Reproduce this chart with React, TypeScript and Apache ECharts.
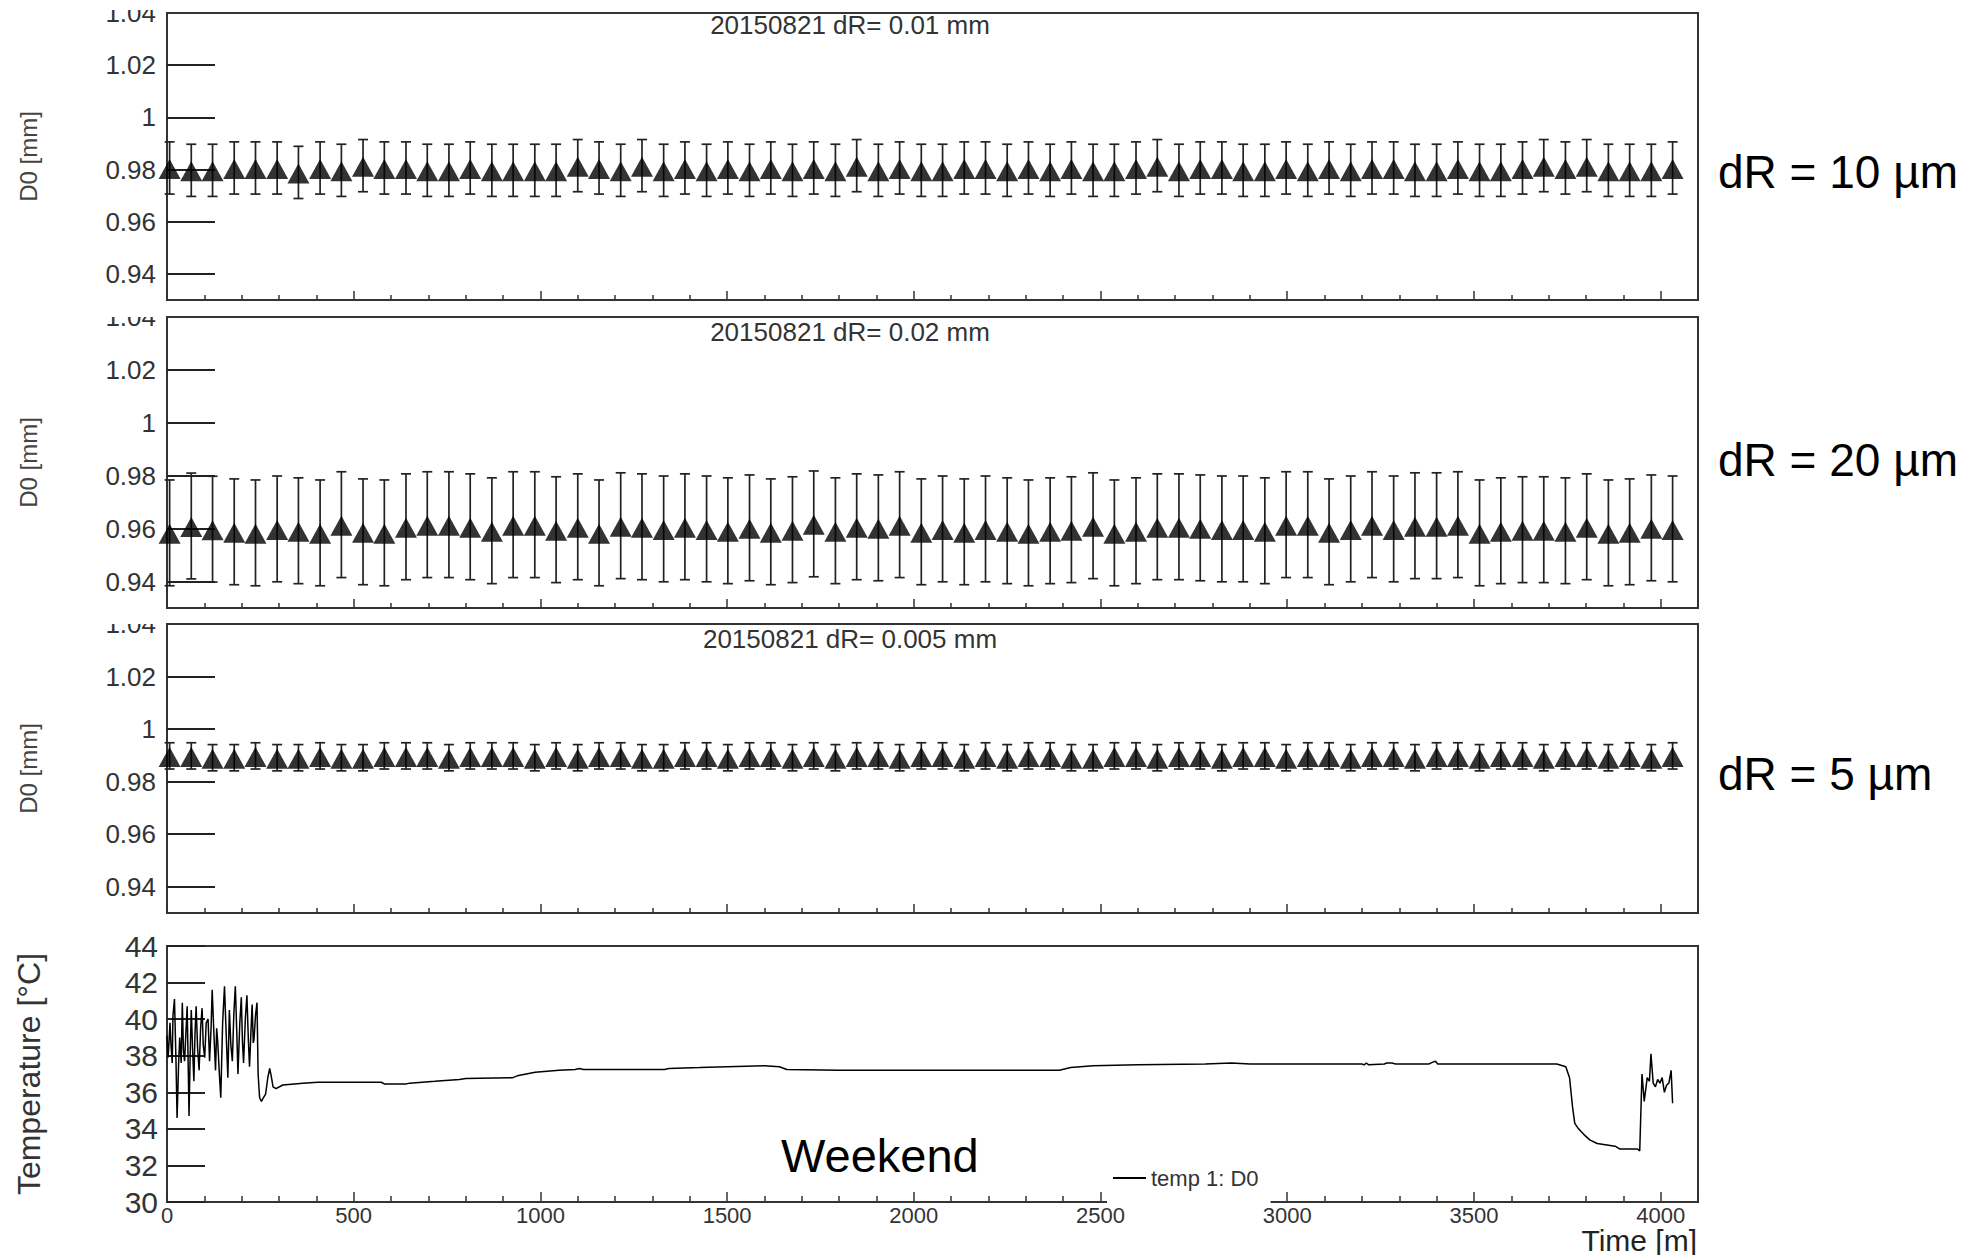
import React, { useEffect, useRef } from "react";
import * as echarts from "echarts";

// ---------- data ----------
const measTimes = [
  7, 65, 122, 180, 237, 295, 352, 410, 467, 525, 582, 640, 697, 755, 812, 870, 927, 985, 1042, 1100, 1157, 1215, 1272, 1330,
  1387, 1445, 1502, 1560, 1617, 1675, 1732, 1790, 1847, 1905, 1962, 2020, 2077, 2135, 2192, 2250, 2307, 2365, 2422, 2480,
  2537, 2595, 2652, 2710, 2767, 2825, 2882, 2940, 2997, 3055, 3112, 3170, 3227, 3285, 3342, 3400, 3457, 3515, 3572, 3630,
  3687, 3745, 3802, 3860, 3917, 3975, 4032,
];

const d0_10um = [
  0.9806, 0.9797, 0.9797, 0.9806, 0.9806, 0.9806, 0.9789, 0.9806, 0.9797, 0.9815, 0.9806, 0.9806, 0.9797, 0.9797, 0.9806,
  0.9797, 0.9797, 0.9797, 0.9797, 0.9815, 0.9806, 0.9797, 0.9815, 0.9797, 0.9806,
  0.9797, 0.9806, 0.9797, 0.9806, 0.9797, 0.9806, 0.9797, 0.9815, 0.9797, 0.9806, 0.9797, 0.9797, 0.9806, 0.9806, 0.9797,
  0.9806, 0.9797, 0.9806, 0.9797, 0.9797, 0.9806, 0.9815, 0.9797, 0.9806, 0.9806, 0.9797, 0.9797, 0.9806, 0.9797, 0.9806,
  0.9797, 0.9806, 0.9806, 0.9797, 0.9797, 0.9806, 0.9797, 0.9797, 0.9806, 0.9815, 0.9806, 0.9815, 0.9797, 0.9797, 0.9797,
  0.9806,
];

const d0_20um = [
  0.9584, 0.961, 0.9598, 0.9588, 0.9584, 0.9599, 0.9592, 0.9584, 0.9615, 0.9588, 0.9584, 0.9607, 0.9615, 0.9615, 0.9607,
  0.9592, 0.9615, 0.9615, 0.9596, 0.9607, 0.9584, 0.9611, 0.9607, 0.9599,
  0.9607, 0.9599, 0.9592, 0.9603, 0.9588, 0.9596, 0.9618, 0.9592, 0.9607, 0.9603, 0.9615, 0.9588, 0.9599, 0.9588, 0.9599,
  0.9592, 0.9584, 0.9592, 0.9596, 0.9611, 0.9584, 0.9592, 0.9607, 0.9607,
  0.9603, 0.9599, 0.9599, 0.9592, 0.9615, 0.9615, 0.9588, 0.9599, 0.9615, 0.9599, 0.9611, 0.9611, 0.9615, 0.9584, 0.9592,
  0.9596, 0.9596, 0.9592, 0.9607, 0.9584, 0.9588, 0.9603, 0.9599,
];

const d0_5um = [
  0.9898, 0.9898, 0.9891, 0.9891, 0.9898, 0.9891, 0.9891, 0.9898, 0.9891, 0.9891, 0.9898, 0.9898, 0.9898, 0.9891, 0.9898,
  0.9898, 0.9898, 0.9891, 0.9898, 0.9891, 0.9898, 0.9898, 0.9891, 0.9891, 0.9898,
  0.9898, 0.9891, 0.9898, 0.9898, 0.9891, 0.9898, 0.9891, 0.9898, 0.9898, 0.9891, 0.9898, 0.9898, 0.9891, 0.9898, 0.9891,
  0.9898, 0.9898, 0.9891, 0.9891, 0.9898, 0.9898, 0.9891, 0.9898, 0.9898, 0.9891, 0.9898, 0.9898, 0.9891, 0.9898, 0.9898,
  0.9891, 0.9898, 0.9898, 0.9891, 0.9898, 0.9898, 0.9891, 0.9898, 0.9898, 0.9891, 0.9898, 0.9898, 0.9891, 0.9898, 0.9891,
  0.9898,
];

const panelErrors = [0.01, 0.02, 0.005];
const panelTitles = ["20150821 dR= 0.01 mm", "20150821 dR= 0.02 mm", "20150821 dR= 0.005 mm"];
const sideLabels = ["dR = 10 µm", "dR = 20 µm", "dR = 5 µm"];

const tempTimes = [
  0, 3, 5, 8, 11, 14, 16, 20, 24, 27, 31, 34, 38, 41, 44, 47, 51, 54, 57, 59, 62, 65, 69, 72, 75, 78, 82, 86, 90, 94, 97,
  101, 105, 110, 114, 118, 121, 126, 130, 133, 136, 140, 144, 149, 154, 159, 163, 167, 171, 175, 179, 183, 187, 190, 195,
  199, 202, 205, 210, 214, 218, 221, 225, 228, 231, 233, 237, 241, 244, 248, 253, 258, 264, 270, 275, 279, 284, 292, 310,
  364, 404, 520, 574, 583, 639, 650, 717, 783, 800, 926, 938, 986, 1050, 1093, 1105, 1115, 1332, 1344, 1426, 1500, 1600,
  1640, 1660, 1800, 2000, 2200, 2390, 2420, 2480, 2600, 2780, 2850, 2900, 3200, 3206, 3212, 3218, 3260, 3266, 3280, 3290,
  3380, 3390, 3397, 3403, 3722, 3746, 3756, 3764, 3770, 3780, 3794, 3810, 3830, 3878, 3890, 3938, 3944, 3950, 3956, 3964,
  3970, 3974, 3980, 3986, 3992, 3998, 4004, 4010, 4016, 4022, 4028, 4032,
];
const tempValues = [
  39.1, 37.9, 38.6, 39.8, 38.5, 37.6, 40.2, 41.1, 37.8, 34.6, 37.5, 39.0, 37.6, 40.9, 38.3, 37.7, 39.4, 40.7, 37.2, 34.7,
  38.0, 40.5, 38.1, 36.6, 39.2, 40.7, 38.4, 37.2, 39.5, 40.6, 38.6, 37.9, 39.8, 40.0, 37.7, 39.5, 41.6, 39.0, 37.2, 39.5,
  38.7, 37.1, 35.7, 39.8, 41.8, 38.9, 36.8, 40.5, 38.6, 37.7, 40.3, 41.8, 39.2, 37.0, 39.8, 41.2, 38.8, 37.6, 40.1, 41.3,
  38.8, 37.4, 39.4, 40.8, 38.7, 38.9, 40.2, 40.9, 37.0, 35.7, 35.5, 35.7, 35.9, 36.8, 37.3, 36.9, 36.3, 36.2, 36.4, 36.5,
  36.55, 36.55, 36.55, 36.45, 36.45, 36.5, 36.6, 36.7, 36.75, 36.8, 36.9, 37.1, 37.2, 37.25, 37.3, 37.25, 37.25, 37.3,
  37.35, 37.4, 37.45, 37.4, 37.25, 37.2, 37.2, 37.2, 37.2, 37.35, 37.45, 37.5, 37.55, 37.6, 37.55, 37.55, 37.5, 37.6,
  37.5, 37.55, 37.6, 37.6, 37.55, 37.55, 37.65, 37.7, 37.55, 37.55, 37.4, 36.8, 35.2, 34.3, 34.0, 33.7, 33.4, 33.2,
  33.05, 32.9, 32.9, 32.8, 37.0, 35.5, 36.8, 36.6, 38.1, 36.5, 36.3, 36.7, 36.5, 36.8, 36.0, 36.4, 36.5, 37.2, 35.4,
];

const d0TickValues = [0.94, 0.96, 0.98, 1.0, 1.02];
const d0LabelValues = [0.94, 0.96, 0.98, 1.0, 1.02, 1.04];

// ---------- layout ----------
const FONT = "'Liberation Sans', Arial, Helvetica, sans-serif";
const GRID_LEFT = 167;
const GRID_WIDTH = 1531;
const panels = [
  { top: 10, height: 290 },
  { top: 317, height: 291 },
  { top: 624, height: 289 },
  { top: 946, height: 256 },
];

const App: React.FC = () => {
  const ref = useRef<HTMLDivElement>(null);

  useEffect(() => {
    document.body.style.margin = "0";
    if (!ref.current) return;
    const chart = echarts.init(ref.current, undefined, { renderer: "svg" });

    const d0Sets = [d0_10um, d0_20um, d0_5um];

    const grids = panels.map((p) => ({
      left: GRID_LEFT,
      top: p.top,
      width: GRID_WIDTH,
      height: p.height,
      show: true,
      borderColor: "#333",
      borderWidth: 2,
      backgroundColor: "transparent",
      containLabel: false,
    }));

    const xAxes = panels.map((_, i) => ({
      type: "value",
      gridIndex: i,
      min: 0,
      max: 4100,
      interval: 500,
      axisLine: { show: false },
      axisTick: {
        show: true,
        inside: true,
        length: i === 3 ? 10 : 9,
        lineStyle: { color: "#333", width: 1.5 },
      },
      minorTick: {
        show: true,
        splitNumber: 5,
        length: i === 3 ? 6 : 5,
        lineStyle: { color: "#333", width: 1.5 },
      },
      splitLine: { show: false },
      minorSplitLine: { show: false },
      axisLabel:
        i === 3
          ? {
              show: true,
              fontSize: 22,
              color: "#333",
              fontFamily: FONT,
              margin: 2,
              showMaxLabel: false,
              formatter: (v: number) => String(v),
            }
          : { show: false },
    }));

    const yAxes = panels.map((_, i) => {
      if (i < 3) {
        return {
          type: "value",
          gridIndex: i,
          min: 0.93,
          max: 1.04,
          axisLine: { show: false },
          axisTick: {
            show: true,
            inside: true,
            length: 48,
            customValues: d0TickValues,
            lineStyle: { color: "#222", width: 2 },
          },
          splitLine: { show: false },
          axisLabel: {
            show: true,
            customValues: d0LabelValues,
            fontSize: 26,
            color: "#333",
            fontFamily: FONT,
            margin: 11,
            formatter: (v: number) => String(+v.toFixed(2)),
          },
          name: "D0 [mm]",
          nameLocation: "middle",
          nameRotate: 90,
          nameGap: 127,
          nameTextStyle: { fontSize: 24, color: "#444", fontFamily: FONT },
        };
      }
      return {
        type: "value",
        gridIndex: 3,
        min: 30,
        max: 44,
        interval: 2,
        axisLine: { show: false },
        axisTick: {
          show: true,
          inside: true,
          length: 38,
          lineStyle: { color: "#222", width: 2 },
        },
        splitLine: { show: false },
        axisLabel: {
          show: true,
          fontSize: 30,
          color: "#333",
          fontFamily: FONT,
          margin: 9,
        },
        name: "Temperature [°C]",
        nameLocation: "middle",
        nameRotate: 90,
        nameGap: 122,
        nameTextStyle: { fontSize: 32, color: "#333", fontFamily: FONT },
      };
    });

    const series: any[] = [];
    d0Sets.forEach((vals, i) => {
      const err = panelErrors[i];
      series.push({
        type: "custom",
        name: "err" + i,
        xAxisIndex: i,
        yAxisIndex: i,
        silent: true,
        data: measTimes.map((t, k) => [t, vals[k], err]),
        renderItem: (_params: any, api: any) => {
          const x = api.value(0);
          const y = api.value(1);
          const e = api.value(2);
          const top = api.coord([x, y + e]);
          const bot = api.coord([x, y - e]);
          const cap = 5;
          const st = { stroke: "#222", lineWidth: 1.7 };
          return {
            type: "group",
            children: [
              { type: "line", shape: { x1: top[0], y1: top[1], x2: bot[0], y2: bot[1] }, style: st },
              { type: "line", shape: { x1: top[0] - cap, y1: top[1], x2: top[0] + cap, y2: top[1] }, style: st },
              { type: "line", shape: { x1: bot[0] - cap, y1: bot[1], x2: bot[0] + cap, y2: bot[1] }, style: st },
            ],
          };
        },
        z: 2,
      });
      series.push({
        type: "scatter",
        name: "D0 " + i,
        xAxisIndex: i,
        yAxisIndex: i,
        symbol: "triangle",
        symbolSize: [22, 20],
        symbolOffset: [0, 1],
        itemStyle: { color: "#000" },
        data: measTimes.map((t, k) => [t, vals[k]]),
        z: 3,
      });
    });

    series.push({
      type: "line",
      name: "temp 1: D0",
      xAxisIndex: 3,
      yAxisIndex: 3,
      showSymbol: false,
      symbol: "none",
      lineStyle: { color: "#000", width: 1.5 },
      itemStyle: { color: "#000" },
      data: tempTimes.map((t, k) => [t, tempValues[k]]),
      z: 3,
    });

    const graphics: any[] = [];
    // clip the top halves of the "1.04" labels like the reference pads do
    [0, 1, 2].forEach((i) => {
      graphics.push({
        type: "rect",
        shape: { x: 60, y: panels[i].top - 25, width: 100, height: 25 },
        style: { fill: "#fff" },
        z: 50,
        silent: true,
      });
      graphics.push({
        type: "text",
        x: 850,
        y: panels[i].top + 15,
        style: {
          text: panelTitles[i],
          fontSize: 26,
          fontFamily: FONT,
          fill: "#333",
          align: "center",
          textAlign: "center",
          verticalAlign: "middle",
          textVerticalAlign: "middle",
        },
        z: 60,
      });
      graphics.push({
        type: "text",
        x: 1718,
        y: [172, 460, 774][i],
        style: {
          text: sideLabels[i],
          fontSize: 46,
          fontFamily: FONT,
          fill: "#000",
          align: "left",
          textAlign: "left",
          verticalAlign: "middle",
          textVerticalAlign: "middle",
        },
        z: 60,
      });
    });
    graphics.push({
      type: "text",
      x: 781,
      y: 1155,
      style: {
        text: "Weekend",
        fontSize: 47,
        fontFamily: FONT,
        fill: "#000",
        align: "left",
        textAlign: "left",
        verticalAlign: "middle",
        textVerticalAlign: "middle",
      },
      z: 60,
    });
    graphics.push({
      type: "text",
      x: 1697,
      y: 1240,
      style: {
        text: "Time [m]",
        fontSize: 30,
        fontFamily: FONT,
        fill: "#222",
        align: "right",
        textAlign: "right",
        verticalAlign: "middle",
        textVerticalAlign: "middle",
      },
      z: 60,
    });

    chart.setOption({
      animation: false,
      backgroundColor: "#fff",
      grid: grids,
      xAxis: xAxes,
      yAxis: yAxes,
      series,
      legend: {
        data: [{ name: "temp 1: D0", icon: "rect" }],
        left: 1107,
        top: 1160,
        orient: "horizontal",
        itemWidth: 33,
        itemHeight: 2,
        padding: [7, 12, 16, 6],
        backgroundColor: "#fff",
        selectedMode: false,
        textStyle: { fontSize: 22, color: "#333", fontFamily: FONT },
        z: 20,
      },
      graphic: graphics,
    });

    return () => {
      chart.dispose();
    };
  }, []);

  return <div ref={ref} style={{ width: 1983, height: 1255 }} />;
};

export default App;
